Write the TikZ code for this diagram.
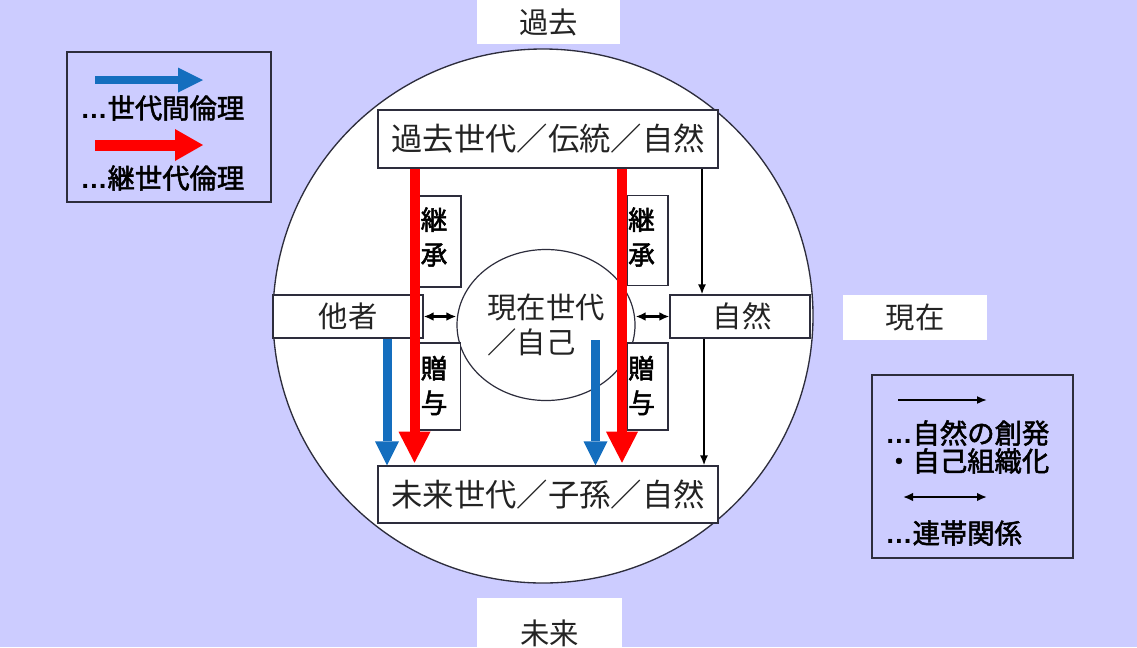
\documentclass[tikz,border=0pt]{standalone}
\usepackage{fontspec}
\setmainfont{Noto Sans CJK JP}[BoldFont={Noto Sans CJK JP}, BoldFeatures={FakeBold=2}]
\newfontfamily\lat{Liberation Sans}
\usetikzlibrary{arrows.meta,shapes.geometric}
\definecolor{bg}{RGB}{204,204,255}
\definecolor{ablue}{RGB}{20,110,190}
\definecolor{ared}{RGB}{255,0,0}
\definecolor{edge}{RGB}{45,45,60}
\definecolor{txt}{RGB}{35,35,35}
\begin{document}
\begin{tikzpicture}[x=0.75pt,y=-0.75pt,
  box/.style={draw=edge, fill=white, line width=0.9pt, inner sep=0pt},
  plainbox/.style={fill=white, inner sep=0pt, text=txt, font=\fontsize{22}{26}\selectfont},
  thinlab/.style={font=\fontsize{22}{26}\selectfont, text=txt},
  boldlab/.style={font=\fontsize{20}{26}\selectfont\bfseries, align=center, inner sep=0pt},
  leg/.style={font=\fontsize{20.5}{24}\selectfont\bfseries, anchor=west, inner sep=0pt},
  redarr/.style={draw=ared, line width=7.5pt, -{Triangle[length=23.25pt,width=24pt,line width=0pt]}},
  bluearr/.style={draw=ablue, line width=6.75pt, -{Triangle[length=18pt,width=18pt,line width=0pt]}},
  redleg/.style={draw=ared, line width=8.25pt, -{Triangle[length=21pt,width=24pt,line width=0pt]}},
  blueleg/.style={draw=ablue, line width=6pt, -{Triangle[length=18.75pt,width=18.75pt,line width=0pt]}},
  natarr/.style={draw=black, line width=1.3pt, -{Latex[length=7.5pt,width=6pt]}},
  solarr/.style={draw=black, line width=1.6pt, {Latex[length=7.5pt,width=6.5pt]}-{Latex[length=7.5pt,width=6.5pt]}},
  legbox/.style={draw=edge, line width=0.9pt, inner sep=0pt},
]
% background
\fill[bg] (0,0) rectangle (1137,647);
\useasboundingbox (0,0) rectangle (1137,647);

% time labels
\node[plainbox, minimum width=107.25pt, minimum height=33pt] (past) at (548.5,22) {過去};
\node[plainbox, minimum width=108pt, minimum height=33.75pt] (present) at (915,317.5) {現在};
\node[plainbox, minimum width=108.75pt, minimum height=52.5pt] (future) at (549.5,633) {未来};

% big circle
\node[ellipse, draw=edge, fill=white, line width=1pt, minimum width=405pt, minimum height=400.5pt, inner sep=0pt] (world) at (543,316) {};

% main boxes
\node[box, thinlab, minimum width=255pt, minimum height=43.5pt, font=\fontsize{23.5}{28}\selectfont] (kako) at (548,139) {過去世代／伝統／自然};
\node[box, thinlab, minimum width=255pt, minimum height=42.75pt, font=\fontsize{23.5}{28}\selectfont] (mirai) at (548,494.5) {未来世代／子孫／自然};
\node[box, thinlab, minimum width=112.5pt, minimum height=32.25pt] (tasha) at (348,316.5) {他者};
\node[box, thinlab, minimum width=105pt, minimum height=32.25pt] (shizen) at (740,316.5) {\hspace{3pt}自然};
\node[ellipse, draw=edge, fill=white, line width=0.9pt, minimum width=133.5pt, minimum height=113.25pt, inner sep=0pt, thinlab, align=left] (self) at (546,325) {現在世代\\／自己};

% label boxes
\node[box, minimum width=31.5pt, minimum height=68.25pt] (kbL) at (440,241.5) {};
\node[box, minimum width=31.5pt, minimum height=65.25pt] (zbL) at (439.5,386.5) {};
\node[box, minimum width=30.75pt, minimum height=67.5pt] (kbR) at (647.5,240.5) {};
\node[box, minimum width=30.75pt, minimum height=65.25pt] (zbR) at (647.5,386.5) {};
\node[boldlab] (ktL) at (434,237) {継\\承};
\node[boldlab] (ztL) at (434,385.5) {贈\\与};
\node[boldlab] (ktR) at (641.5,237) {継\\承};
\node[boldlab] (ztR) at (641.5,385.5) {贈\\与};

% columns for vertical arrows
\coordinate (rL) at (414.5,0);
\coordinate (rR) at (622,0);
\coordinate (bL) at (387,0);
\coordinate (bRs) at (595.5,340);
\coordinate (kA) at (702,0);
\coordinate (kB) at (704,0);

% blue arrows
\draw[bluearr] (tasha.south -| bL) -- (mirai.north -| bL);
\draw[bluearr] (bRs) -- (mirai.north -| bRs);
% red arrows
\draw[redarr, shorten >=2pt] (kako.south -| rL) -- (mirai.north -| rL);
\draw[redarr, shorten >=2pt] (kako.south -| rR) -- (mirai.north -| rR);

% black arrows
\draw[natarr] (kako.south -| kA) -- (shizen.north -| kA);
\draw[natarr] (shizen.south -| kB) -- (mirai.north -| kB);
\draw[solarr] (tasha.east) -- (tasha.east -| self.west);
\draw[solarr] (self.east |- shizen.west) -- (shizen.west);

% legend 1
\node[legbox, minimum width=153pt, minimum height=112.5pt] (leg1) at (169,127) {};
\coordinate (l1a) at (95,80);
\coordinate (l1b) at (203,80);
\coordinate (l2a) at (95,145);
\coordinate (l2b) at (203,145);
\draw[blueleg] (l1a) -- (l1b);
\draw[redleg] (l2a) -- (l2b);
\node[leg] (t1) at (80,108) {{\lat …}世代間倫理};
\node[leg] (t2) at (80,178) {{\lat …}継世代倫理};

% legend 2
\node[legbox, minimum width=150.75pt, minimum height=137.25pt] (leg2) at (972.5,466.5) {};
\coordinate (m1a) at (898,400);
\coordinate (m1b) at (987,400);
\coordinate (m2a) at (903,497);
\coordinate (m2b) at (987,497);
\draw[natarr] (m1a) -- (m1b);
\draw[solarr] (m2a) -- (m2b);
\node[leg] (t3) at (885,433) {{\lat …}自然の創発};
\node[leg] (t4) at (885,461) {・自己組織化};
\node[leg] (t5) at (885,533) {{\lat …}連帯関係};
\end{tikzpicture}
\end{document}
